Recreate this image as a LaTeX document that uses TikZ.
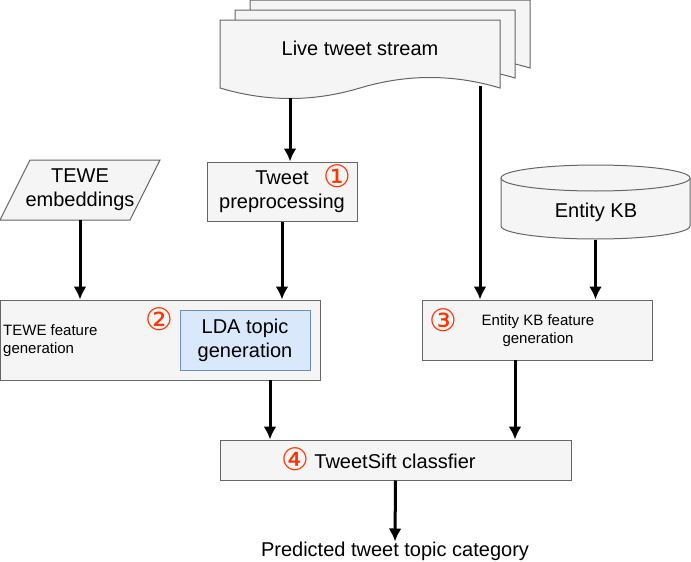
\documentclass[tikz,border=0pt]{standalone}
\usepackage{fontspec}
\setmainfont{Liberation Sans}
\newfontfamily\circfont{DejaVu Sans}
\usetikzlibrary{calc}
\usetikzlibrary{arrows, arrows.meta, positioning}
\definecolor{boxgray}{HTML}{F5F5F5}
\definecolor{boxline}{HTML}{666666}
\definecolor{ldafill}{HTML}{DAE8FC}
\definecolor{ldaline}{HTML}{6C8EBF}
\definecolor{stepred}{HTML}{FF3300}
\newcommand{\bigtxt}{\fontsize{20}{24}\selectfont}
\newcommand{\smalltxt}{\fontsize{15}{18}\selectfont}
\newcommand{\stepnum}[1]{{\color{stepred}\circfont\fontsize{31}{31}\selectfont #1}}

\begin{document}
\begin{tikzpicture}[x=1pt, y=-1pt]
 \tikzstyle{gbox}=[rectangle, draw=boxline, fill=boxgray, line width=1pt, inner sep=0pt]
 \tikzstyle{gshape}=[draw=boxline, fill=boxgray, line width=1pt]
 \tikzstyle{tnode}=[inner sep=0pt, align=center, font=\bigtxt]
 \tikzstyle{snode}=[inner sep=0pt, align=center, font=\smalltxt]
 \tikzstyle{cnum}=[inner sep=0pt, text height=22pt, text depth=0pt]
 \tikzstyle{line} = [draw, line width=3pt, -{Latex[length=13pt, width=13pt]}]

 \useasboundingbox (0,0) rectangle (691,562);

 % live tweet stream
 \begin{scope}
  \foreach \d in {30,15,0} {
   \draw[gshape, shift={(\d,-\d/1.5)}] (220,20) -- (500,20) -- (500,88)
     .. controls (453.3,74) and (406.7,74) .. (360,88)
     .. controls (313.3,102) and (266.7,102) .. (220,88) -- cycle;
  }
  \node[tnode] (stream) at (360,48) {Live tweet stream};
  \coordinate (s1) at (290,98);
  \coordinate (s2) at (480,86);
 \end{scope}

 % inputs
 \begin{scope}
  \draw[gshape] (30,160) -- (160,160) -- (130,220) -- (0,220) -- cycle;
  \node[tnode, minimum width=160pt, minimum height=60pt] (tewe) at (80,190) {TEWE\\embeddings};

  \node[gbox, tnode, minimum width=150pt, minimum height=59pt] (prep) at (282,191.5) {Tweet\\preprocessing};
  \node[cnum] (n1) at (337,176.5) {\stepnum{①}};

  \draw[gshape] (501,178) -- (501,226) arc[start angle=180, end angle=0, x radius=94.5, y radius=13]
    -- (690,178) arc[start angle=0, end angle=-180, x radius=94.5, y radius=13] -- cycle;
  \draw[draw=boxline, line width=1pt] (501,178) arc[start angle=180, end angle=0, x radius=94.5, y radius=13];
  \node[inner sep=0pt, minimum width=189pt, minimum height=75pt] (kb) at (595.5,202) {};
  \node[tnode] (kbtxt) at (596,212) {Entity KB};
 \end{scope}

 % feature generation
 \begin{scope}
  \node[gbox, minimum width=320pt, minimum height=80pt] (tewefeat) at (160,340) {};
  \node[snode, anchor=west, align=left] (tewetxt) at (3,341) {TEWE feature\\generation};
  \node[tnode, draw=ldaline, fill=ldafill, line width=1pt, minimum width=130pt, minimum height=60pt] (lda) at (245,340) {LDA topic\\generation};
  \node[cnum] (n2) at (159,319) {\stepnum{②}};

  \node[gbox, minimum width=230pt, minimum height=60pt] (entfeat) at (537,330) {};
  \node[snode] (enttxt) at (538,331) {Entity KB feature\\generation};
  \node[cnum] (n3) at (443,320) {\stepnum{③}};
  \coordinate (t1) at (270,380);
  \coordinate (t2) at (515,360);
 \end{scope}

 % classifier
 \begin{scope}
  \node[gbox, minimum width=351pt, minimum height=40pt] (clf) at (395.5,460) {};
  \node[tnode] (clftxt) at (395,461) {TweetSift classfier};
  \node[cnum] (n4) at (295,459) {\stepnum{④}};
  \node[tnode] (out) at (395,551) {Predicted tweet topic category};
 \end{scope}

 \path [line] (s1) -- (s1 |- prep.north);
 \path [line] (s2) -- (s2 |- entfeat.north);
 \path [line] (tewe.south) -- (tewe.south |- tewefeat.north);
 \path [line] (prep.south) -- (prep.south |- tewefeat.north);
 \path [line] (kb.south) -- (kb.south |- entfeat.north);
 \path [line] (t1) -- (t1 |- clf.north);
 \path [line] (t2) -- (t2 |- clf.north);
 \path [line] (clf.south) -- (out.north);
\end{tikzpicture}
\end{document}
